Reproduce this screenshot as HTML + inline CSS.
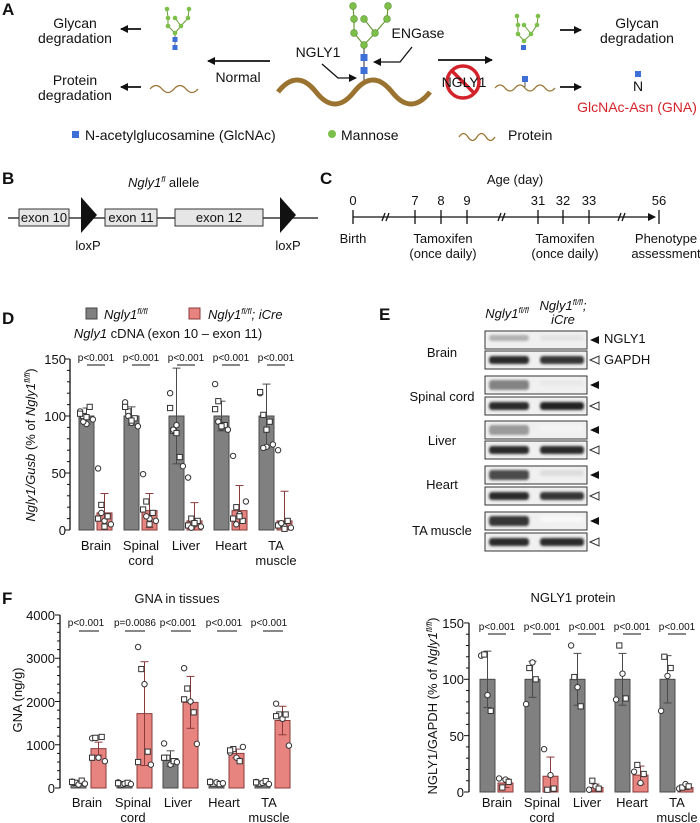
<!DOCTYPE html>
<html><head><meta charset="utf-8"><style>
html,body{margin:0;padding:0;background:#fff;}
svg{display:block;font-family:"Liberation Sans",Arial,sans-serif;}
.t{font-size:14px;fill:#111;}
.s{font-size:13px;fill:#111;}
.p{font-size:10px;fill:#111;}
.b{font-size:17px;font-weight:bold;fill:#111;}
.i{font-style:italic;}
</style></head><body>
<svg id="S" width="700" height="823" viewBox="0 0 700 823" xmlns="http://www.w3.org/2000/svg">
<defs>
<marker id="ah" markerWidth="8" markerHeight="8" refX="7" refY="4" orient="auto" markerUnits="userSpaceOnUse"><path d="M0,0 L8,4 L0,8 z" fill="#111"/></marker>
<filter id="bl" x="-20%" y="-50%" width="140%" height="200%"><feGaussianBlur stdDeviation="1.4"/></filter>
</defs>
<!-- Panel A -->
<text class="b" x="2" y="15">A</text>
<text class="t" x="75" y="28" text-anchor="middle">Glycan</text>
<text class="t" x="75" y="43" text-anchor="middle">degradation</text>
<line x1="141" y1="29" x2="121" y2="29" stroke="#111" stroke-width="1.8" marker-end="url(#ah)"/>
<text class="t" x="75" y="85" text-anchor="middle">Protein</text>
<text class="t" x="75" y="100" text-anchor="middle">degradation</text>
<line x1="141" y1="87" x2="121" y2="87" stroke="#111" stroke-width="1.8" marker-end="url(#ah)"/>
<path d="M150,89 q6,-7 12,0 t12,0 t12,0 t12,0" fill="none" stroke="#9a7330" stroke-width="1.3"/>
<line x1="270" y1="61" x2="208" y2="61" stroke="#111" stroke-width="1.8" marker-end="url(#ah)"/>
<text class="t" x="238" y="82" text-anchor="middle">Normal</text>
<g id="glyS"></g>
<g stroke="#6a9a3a" stroke-width="1.2" fill="none">
<polyline points="353,6 354,19 354,33 364,45"/><polyline points="388,6 387,19 375,33 364,45"/><line x1="364" y1="19" x2="375" y2="33"/>
<line x1="364" y1="45" x2="364" y2="82" stroke="#555"/>
</g>
<g fill="#7cc04a" stroke="#5a8f30" stroke-width="0.6">
<circle cx="353" cy="6" r="3.4"/><circle cx="388" cy="6" r="3.4"/><circle cx="354" cy="19" r="3.4"/><circle cx="364" cy="19" r="3.4"/><circle cx="387" cy="19" r="3.4"/><circle cx="354" cy="33" r="3.4"/><circle cx="375" cy="33" r="3.4"/><circle cx="364" cy="45" r="3.4"/>
</g>
<rect x="360.5" y="54" width="7" height="7" fill="#3d6fd6"/><rect x="360.5" y="67" width="7" height="7" fill="#3d6fd6"/>
<path d="M278,92 q19,-24 38,0 t38,0 t38,0 t38,0" fill="none" stroke="#9a7330" stroke-width="5"/>
<text class="t" x="318" y="57" text-anchor="middle">NGLY1</text>
<polyline points="322,64 338,78 356,78" fill="none" stroke="#111" stroke-width="1.3" marker-end="url(#ah)"/>
<text class="t" x="418" y="38" text-anchor="middle">ENGase</text>
<polyline points="412,47 400,62 374,62" fill="none" stroke="#111" stroke-width="1.3" marker-end="url(#ah)"/>
<line x1="438" y1="60" x2="492" y2="60" stroke="#111" stroke-width="1.8" marker-end="url(#ah)"/>
<circle cx="463" cy="82" r="16" fill="none" stroke="#d3232a" stroke-width="3.5"/>
<line x1="452" y1="71" x2="474" y2="93" stroke="#d3232a" stroke-width="3.5"/>
<text class="t" x="464" y="87" text-anchor="middle">NGLY1</text>
<g stroke="#6a9a3a" stroke-width="1" fill="none">
<polyline points="517,16 518,25 518,34 524,41"/><polyline points="538,16 537,25 531,34 524,41"/><line x1="524" y1="25" x2="531" y2="34"/>
</g>
<g fill="#7cc04a"><circle cx="517" cy="16" r="2.3"/><circle cx="538" cy="16" r="2.3"/><circle cx="518" cy="25" r="2.3"/><circle cx="524" cy="25" r="2.3"/><circle cx="537" cy="25" r="2.3"/><circle cx="518" cy="34" r="2.3"/><circle cx="531" cy="34" r="2.3"/><circle cx="524" cy="41" r="2.3"/></g>
<rect x="521" y="45" width="5" height="5" fill="#3d6fd6"/>
<line x1="560" y1="30" x2="581" y2="30" stroke="#111" stroke-width="1.8" marker-end="url(#ah)"/>
<text class="t" x="637" y="28" text-anchor="middle">Glycan</text>
<text class="t" x="637" y="43" text-anchor="middle">degradation</text>
<path d="M495,88 q5,-6 10,0 t10,0 t10,0 t10,0 t10,0 t10,0" fill="none" stroke="#9a7330" stroke-width="1.3"/>
<line x1="525" y1="82" x2="525" y2="87" stroke="#555"/>
<rect x="522" y="76" width="6" height="6" fill="#3d6fd6"/>
<line x1="560" y1="87" x2="581" y2="87" stroke="#111" stroke-width="1.8" marker-end="url(#ah)"/>
<rect x="635" y="71" width="6" height="6" fill="#3d6fd6"/>
<text class="t" x="638" y="91" text-anchor="middle">N</text>
<text class="t" x="637" y="112" text-anchor="middle" style="fill:#d3232a">GlcNAc-Asn (GNA)</text>
<rect x="72" y="131" width="7" height="7" fill="#3d6fd6"/>
<text class="t" x="85" y="140">N-acetylglucosamine (GlcNAc)</text>
<circle cx="332" cy="134" r="4" fill="#7cc04a"/>
<text class="t" x="341" y="140">Mannose</text>
<path d="M459,137 q4.5,-7 9,0 t9,0 t9,0 t9,0" fill="none" stroke="#9a7330" stroke-width="1.3"/>
<text class="t" x="508" y="140">Protein</text>

<!-- Panel B -->
<text class="b" x="2" y="184">B</text>
<text class="s" x="128" y="187"><tspan class="i">Ngly1</tspan><tspan class="i" font-size="8" dy="-5">fl</tspan><tspan dy="5"> allele</tspan></text>
<line x1="8" y1="218" x2="318" y2="218" stroke="#111" stroke-width="1.3"/>
<g fill="#e6e6e6" stroke="#333" stroke-width="1"><rect x="19" y="209" width="50" height="17"/><rect x="105" y="209" width="52" height="17"/><rect x="175" y="209" width="88" height="17"/></g>
<text class="s" x="44" y="222" text-anchor="middle">exon 10</text>
<text class="s" x="131" y="222" text-anchor="middle">exon 11</text>
<text class="s" x="219" y="222" text-anchor="middle">exon 12</text>
<path d="M81,197 L97,215 L81,233 z" fill="#111"/><path d="M280,197 L296,215 L280,233 z" fill="#111"/>
<text class="s" x="88" y="250" text-anchor="middle">loxP</text>
<text class="s" x="288" y="250" text-anchor="middle">loxP</text>

<!-- Panel C -->
<text class="b" x="320" y="184">C</text>
<text class="s" x="515" y="184" text-anchor="middle">Age (day)</text>
<line x1="353" y1="217" x2="655" y2="217" stroke="#111" stroke-width="1.3" marker-end="url(#ah)"/>
<g stroke="#111" stroke-width="1.3"><line x1="353" y1="210" x2="353" y2="224"/><line x1="415" y1="210" x2="415" y2="224"/><line x1="441" y1="210" x2="441" y2="224"/><line x1="467" y1="210" x2="467" y2="224"/><line x1="538" y1="210" x2="538" y2="224"/><line x1="563" y1="210" x2="563" y2="224"/><line x1="589" y1="210" x2="589" y2="224"/><line x1="659" y1="210" x2="659" y2="224"/>
<line x1="382" y1="221" x2="385" y2="213"/><line x1="386" y1="221" x2="389" y2="213"/><line x1="498" y1="221" x2="501" y2="213"/><line x1="502" y1="221" x2="505" y2="213"/><line x1="618" y1="221" x2="621" y2="213"/><line x1="622" y1="221" x2="625" y2="213"/></g>
<g class="s" text-anchor="middle"><text x="353" y="205">0</text><text x="415" y="205">7</text><text x="441" y="205">8</text><text x="467" y="205">9</text><text x="538" y="205">31</text><text x="563" y="205">32</text><text x="589" y="205">33</text><text x="659" y="205">56</text>
<text x="353" y="243">Birth</text><text x="443" y="243">Tamoxifen</text><text x="443" y="258">(once daily)</text><text x="565" y="243">Tamoxifen</text><text x="565" y="258">(once daily)</text><text x="666" y="243">Phenotype</text><text x="666" y="258">assessment</text></g>

<!-- Panel D -->
<text class="b" x="2" y="324">D</text>
<rect x="86" y="308" width="11" height="11" fill="#808080" stroke="#444"/>
<text class="s" x="104" y="319"><tspan class="i">Ngly1</tspan><tspan class="i" font-size="8" dy="-5">fl/fl</tspan></text>
<rect x="189" y="308" width="11" height="11" fill="#e8847f" stroke="#8a3a3a"/>
<text class="s" x="208" y="319"><tspan class="i">Ngly1</tspan><tspan class="i" font-size="8" dy="-5">fl/fl</tspan><tspan class="i" dy="5">; iCre</tspan></text>
<text class="s" x="168" y="338" text-anchor="middle"><tspan class="i">Ngly1</tspan> cDNA (exon 10 – exon 11)</text>
<g class="s" text-anchor="end"><text x="66" y="364">150</text><text x="66" y="421">100</text><text x="66" y="478">50</text><text x="66" y="535">0</text></g>
<text class="s" transform="translate(35,445) rotate(-90)" text-anchor="middle"><tspan class="i">Ngly1/Gusb</tspan> (% of <tspan class="i">Ngly1</tspan><tspan class="i" font-size="8" dy="-5">fl/fl</tspan><tspan dy="5">)</tspan></text>
<g class="p" text-anchor="middle"><text x="96" y="361">p&lt;0.001</text><text x="141" y="361">p&lt;0.001</text><text x="186" y="361">p&lt;0.001</text><text x="231" y="361">p&lt;0.001</text><text x="276" y="361">p&lt;0.001</text></g>
<g class="s" text-anchor="middle"><text x="96" y="550">Brain</text><text x="141" y="550">Spinal</text><text x="141" y="565">cord</text><text x="186" y="550">Liver</text><text x="231" y="550">Heart</text><text x="276" y="550">TA</text><text x="276" y="565">muscle</text></g>

<!-- Panel E -->
<text class="b" x="379" y="320">E</text>
<text class="s" x="507" y="318" text-anchor="middle"><tspan class="i">Ngly1</tspan><tspan class="i" font-size="8" dy="-5">fl/fl</tspan></text>
<text class="s" x="563" y="310" text-anchor="middle"><tspan class="i">Ngly1</tspan><tspan class="i" font-size="8" dy="-5">fl/fl</tspan><tspan class="i" dy="5">;</tspan></text>
<text class="s i" x="563" y="324" text-anchor="middle">iCre</text>
<g class="s" text-anchor="middle"><text x="442" y="357">Brain</text><text x="442" y="401">Spinal cord</text><text x="442" y="445">Liver</text><text x="442" y="489">Heart</text><text x="442" y="535">TA muscle</text></g>
<text class="s" x="604" y="343">NGLY1</text><text class="s" x="604" y="364">GAPDH</text>
<g id="blots"></g>

<!-- Panel F -->
<text class="b" x="2" y="604">F</text>
<text class="s" x="177" y="603" text-anchor="middle">GNA in tissues</text>
<g class="s" text-anchor="end"><text x="55" y="620">4000</text><text x="55" y="663">3000</text><text x="55" y="707">2000</text><text x="55" y="750">1000</text><text x="55" y="793">0</text></g>
<text class="s" transform="translate(22,700) rotate(-90)" text-anchor="middle">GNA (ng/g)</text>
<g class="p" text-anchor="middle"><text x="86" y="626">p&lt;0.001</text><text x="135" y="626">p=0.0086</text><text x="178" y="626">p&lt;0.001</text><text x="224" y="626">p&lt;0.001</text><text x="269" y="626">p&lt;0.001</text></g>
<g class="s" text-anchor="middle"><text x="87" y="807">Brain</text><text x="133" y="807">Spinal</text><text x="133" y="822">cord</text><text x="178" y="807">Liver</text><text x="224" y="807">Heart</text><text x="269" y="807">TA</text><text x="269" y="822">muscle</text></g>

<!-- Panel G -->
<text class="s" x="573" y="602" text-anchor="middle">NGLY1 protein</text>
<g class="s" text-anchor="end"><text x="464" y="628">150</text><text x="464" y="684">100</text><text x="464" y="741">50</text><text x="464" y="797">0</text></g>
<text class="s" transform="translate(437,706) rotate(-90)" text-anchor="middle" font-size="12">NGLY1/GAPDH (% of <tspan class="i">Ngly1</tspan><tspan class="i" font-size="8" dy="-5">fl/fl</tspan><tspan dy="5">)</tspan></text>
<g class="p" text-anchor="middle"><text x="497" y="630">p&lt;0.001</text><text x="542" y="630">p&lt;0.001</text><text x="587" y="630">p&lt;0.001</text><text x="632" y="630">p&lt;0.001</text><text x="677" y="630">p&lt;0.001</text></g>
<g class="s" text-anchor="middle"><text x="497" y="807">Brain</text><text x="542" y="807">Spinal</text><text x="542" y="822">cord</text><text x="587" y="807">Liver</text><text x="632" y="807">Heart</text><text x="677" y="807">TA</text><text x="677" y="822">muscle</text></g>
<g id="dyn"></g>
</svg>
<script>
var NS="http://www.w3.org/2000/svg",D=document.getElementById("dyn");
function el(t,a,p){var e=document.createElementNS(NS,t);for(var k in a)e.setAttribute(k,a[k]);(p||D).appendChild(e);return e;}
(function(){var g=document.getElementById("glyS");
var pts=[[167,9],[189,9],[168,18],[175,18],[188,18],[168,26],[181,26],[175,33]];
el("polyline",{points:"167,9 168,18 168,26 175,33",fill:"none",stroke:"#6a9a3a","stroke-width":1},g);
el("polyline",{points:"189,9 188,18 181,26 175,33",fill:"none",stroke:"#6a9a3a","stroke-width":1},g);
el("line",{x1:175,y1:18,x2:181,y2:26,stroke:"#6a9a3a"},g);
el("line",{x1:175,y1:33,x2:175,y2:48,stroke:"#777"},g);
pts.forEach(function(p){el("circle",{cx:p[0],cy:p[1],r:2.3,fill:"#7cc04a"},g);});
el("rect",{x:172.5,y:37,width:5,height:5,fill:"#3d6fd6"},g);el("rect",{x:172.5,y:45,width:5,height:5,fill:"#3d6fd6"},g);
})();
function chart(o){
 var Y=function(v){return o.y0-(v)*o.k;};
 el("line",{x1:o.ax,y1:o.y0,x2:o.ax,y2:Y(o.max),stroke:"#111","stroke-width":1.3});
 for(var v=0;v<=o.max+1e-9;v+=o.minor){var maj=Math.abs(v/o.major-Math.round(v/o.major))<1e-6;
  el("line",{x1:o.ax-(maj?5:3),y1:Y(v),x2:o.ax,y2:Y(v),stroke:"#111","stroke-width":1});}
 o.d.forEach(function(g,i){
  var gx=o.x0+i*o.sp,px=gx+o.off;
  [[gx,g[0],g[1],g[2],"#808080","#4a4a4a"],[px,g[3],g[4],g[5],"#e8847f","#8a3a3a"]].forEach(function(b){
   var x=b[0],m=b[1];
   el("rect",{x:x,y:Y(m),width:o.bw,height:o.y0-Y(m),fill:b[4],stroke:b[5],"stroke-width":1});
   var cx=x+o.bw/2;
   el("line",{x1:cx,y1:Y(m-b[2]>0?m-b[2]:0),x2:cx,y2:Y(m+b[2]),stroke:b[5],"stroke-width":1});
   el("line",{x1:cx-4,y1:Y(m+b[2]),x2:cx+4,y2:Y(m+b[2]),stroke:b[5],"stroke-width":1});
   if(m-b[2]>0)el("line",{x1:cx-4,y1:Y(m-b[2]),x2:cx+4,y2:Y(m-b[2]),stroke:b[5],"stroke-width":1});
   b[3].forEach(function(v,j){var dx=((j%5)-2)*3.2,yy=Y(v);
    if(j%2)el("rect",{x:cx+dx-2.6,y:yy-2.6,width:5.2,height:5.2,fill:"#fff",stroke:"#333","stroke-width":1});
    else el("circle",{cx:cx+dx,cy:yy,r:2.7,fill:"#fff",stroke:"#333","stroke-width":1});});
  });
  el("line",{x1:gx+8,y1:o.py,x2:px+o.bw-7,y2:o.py,stroke:"#111","stroke-width":1});
 });
}
chart({ax:70,y0:530,k:1.14,max:150,major:50,minor:10,x0:79,sp:45,bw:15,off:18,py:365,
 d:[[100,7,[104,100,93,108,97,102,95,99],15,17,[54,22,8,12,5,10,15,3]],
    [100,8,[112,104,94,98,91,108,100,96],17,15,[49,25,10,15,8,18,12,5]],
    [100,42,[120,87,92,64,56,107,88,85],8,16,[46,10,5,8,3,4,2,6]],
    [100,13,[128,113,90,92,88,106,95,91],17,22,[65,20,14,8,25,10,5,12]],
    [100,28,[120,101,73,95,75,121,72,88],8,26,[70,5,3,8,2,4,6,1]]]});
chart({ax:60,y0:788,k:0.04325,max:4000,major:1000,minor:200,x0:71,sp:46,bw:15,off:20,py:631,
 d:[[120,50,[150,120,80,170,100,140],910,150,[1150,1160,700,1180,620,700]],
    [110,40,[130,80,100,120,90,110],1720,1200,[3260,2750,2400,840,540,600]],
    [680,180,[1030,700,540,620,600,700],1980,600,[2770,2300,2000,1750,1020,2050]],
    [120,40,[150,100,130,90,110,140],800,100,[820,900,700,620,950,870]],
    [120,40,[140,100,120,160,90,130],1560,330,[1950,1700,1600,1700,980,1660]]]});
chart({ax:469,y0:792,k:1.127,max:150,major:50,minor:10,x0:480,sp:45,bw:15,off:18,py:634,
 d:[[100,25,[121,122,86,72],8,4,[12,4,11,9]],
    [100,16,[78,110,115,100],14,17,[38,2,15,3]],
    [100,23,[130,102,93,76],4,3,[2,10,5,3]],
    [100,23,[82,130,105,83],15,8,[18,24,8,16]],
    [100,21,[72,120,103,110],4,2,[3,4,7,5]]]});
(function(){var B=document.getElementById("blots");
var rows=[[331,"n",.35,.12],[351,"g",.95,.9],[376,"n",.55,.1],[397,"g",.95,.98],[421,"n",.45,.05],[441,"g",.95,.95],[466,"n",.8,.15],[487,"g",.95,.9],[512,"n",.9,.03],[533,"g",.95,.95]];
rows.forEach(function(r){var y=r[0];
 el("rect",{x:485,y:y,width:102,height:18,fill:"#f0f0f0",stroke:"#333","stroke-width":1},B);
 [[489,40,r[2]],[540,44,r[3]]].forEach(function(b){var c=Math.round(255-b[2]*225);
  el("rect",{x:b[0],y:y+(r[1]=="g"?5:4),width:b[1],height:r[1]=="g"?8:(r[2]>.4&&b[0]<500?10:6),rx:3,fill:"rgb("+c+","+c+","+c+")",filter:"url(#bl)"},B);});
 if(r[1]=="n")el("path",{d:"M590,"+(y+9)+" l9,-4 l0,8 z",fill:"#111"},B);
 else el("path",{d:"M590,"+(y+9)+" l9,-4 l0,8 z",fill:"#fff",stroke:"#333","stroke-width":1},B);
});})();
</script>
</body></html>
